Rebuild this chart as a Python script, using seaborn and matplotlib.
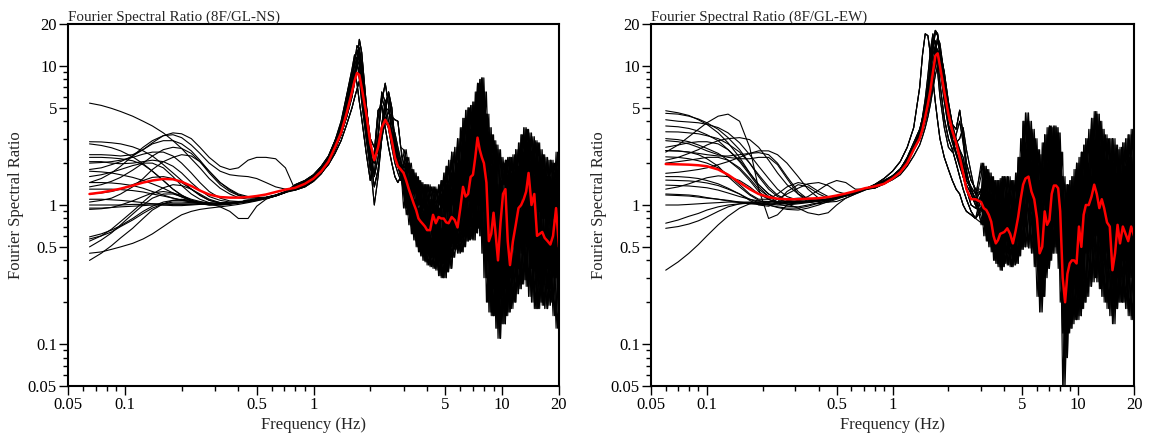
import matplotlib
matplotlib.use("Agg")
import matplotlib.pyplot as plt
import pandas as pd
import seaborn as sns
from matplotlib.ticker import FixedLocator, FixedFormatter, NullFormatter

# ---------------- tick labels ----------------
tick_values = [0.05, 0.1, 0.5, 1, 5, 10, 20]
tick_labels = ["0.05", "0.1", "0.5", "1", "5", "10", "20"]
minor_values = [0.06, 0.07, 0.08, 0.09, 0.2, 0.3, 0.4, 0.6, 0.7, 0.8, 0.9,
                2, 3, 4, 6, 7, 8, 9]

titles = ["Fourier Spectral Ratio (8F/GL-NS)", "Fourier Spectral Ratio (8F/GL-EW)"]

# ---------------- frequency grids ----------------
mid_freq_ns = [0.8, 0.9, 1.0, 1.1, 1.2, 1.3, 1.4, 1.5, 1.6, 1.65,
               1.7, 1.75, 1.8, 1.9, 2.0, 2.1, 2.2, 2.3, 2.4, 2.5,
               2.6, 2.7, 2.8, 2.9]
mid_freq_ew = [0.8, 0.9, 1.0, 1.1, 1.2, 1.3, 1.4, 1.45, 1.5, 1.55,
               1.6, 1.65, 1.7, 1.75, 1.8, 1.9, 2.0, 2.1, 2.2, 2.3,
               2.4, 2.5, 2.65, 2.8]
hf_freq_a = [3.0, 3.1, 3.2, 3.3, 3.4, 3.5, 3.6, 3.7, 3.8, 3.9,
             4.0, 4.15, 4.3, 4.45, 4.6, 4.75, 4.9, 5.05, 5.2, 5.4,
             5.6, 5.8, 6.0, 6.2, 6.4, 6.6, 6.8, 7.0, 7.2, 7.4,
             7.6, 7.8, 8.0, 8.25, 8.5, 8.75, 9.0, 9.25, 9.5, 9.8,
             10.1, 10.4, 10.7, 11.0, 11.4, 11.8, 12.2, 12.6, 13.0, 13.4,
             13.8, 14.3, 14.8, 15.3, 15.8, 16.3, 16.8, 17.4, 18.0, 18.6,
             19.3, 20.0]
hf_freq_b = [3.1, 3.2, 3.3, 3.4, 3.5, 3.6, 3.7, 3.8, 3.9, 4.0,
             4.15, 4.3, 4.45, 4.6, 4.75, 4.9, 5.05, 5.2, 5.4, 5.6,
             5.8, 6.0, 6.2, 6.4, 6.6, 6.8, 7.0, 7.2, 7.4, 7.6,
             7.8, 8.0, 8.25, 8.5, 8.75, 9.0, 9.25, 9.5, 9.8, 10.1,
             10.4, 10.7, 11.0, 11.4, 11.8, 12.2, 12.6, 13.0, 13.4, 13.8,
             14.3, 14.8, 15.3, 15.8, 16.3, 16.8, 17.4, 18.0, 18.6, 19.3,
             20.0, 20.7]
hf_freq_c = [3.05, 3.15, 3.25, 3.35, 3.45, 3.55, 3.65, 3.75, 3.85, 3.95,
             4.07, 4.22, 4.37, 4.52, 4.67, 4.82, 4.97, 5.12, 5.3, 5.5,
             5.7, 5.9, 6.1, 6.3, 6.5, 6.7, 6.9, 7.1, 7.3, 7.5,
             7.7, 7.9, 8.12, 8.37, 8.62, 8.87, 9.12, 9.37, 9.65, 9.95,
             10.25, 10.55, 10.85, 11.2, 11.6, 12.0, 12.4, 12.8, 13.2, 13.6,
             14.05, 14.55, 15.05, 15.55, 16.05, 16.55, 17.1, 17.7, 18.3, 18.95,
             19.65, 20.4]
hf_grids = [hf_freq_a, hf_freq_b, hf_freq_c]

# ================= NS panel =================
lf_freq_ns = [0.065, 0.075, 0.085, 0.095, 0.11, 0.125, 0.14, 0.16, 0.18, 0.2,
              0.225, 0.25, 0.28, 0.32, 0.36, 0.4, 0.45, 0.5, 0.56, 0.63, 0.71]
ns_lf = [
    [5.4, 5.2, 4.95, 4.7, 4.35, 4.0, 3.7, 3.3, 2.9, 2.55, 2.15, 1.85, 1.55, 1.32, 1.2, 1.13, 1.1, 1.1, 1.12, 1.17, 1.24],
    [2.85, 2.84, 2.8, 2.75, 2.62, 2.45, 2.25, 1.95, 1.7, 1.5, 1.3, 1.17, 1.08, 1.04, 1.03, 1.04, 1.06, 1.09, 1.12, 1.17, 1.24],
    [2.75, 2.68, 2.58, 2.45, 2.22, 1.98, 1.75, 1.5, 1.3, 1.17, 1.07, 1.02, 1.0, 1.0, 1.01, 1.03, 1.05, 1.08, 1.11, 1.16, 1.23],
    [2.3, 2.3, 2.28, 2.25, 2.3, 2.5, 2.8, 3.15, 3.3, 3.25, 3.0, 2.6, 2.2, 1.9, 1.8, 1.85, 2.1, 2.2, 2.2, 2.15, 1.85],
    [1.45, 1.55, 1.7, 1.9, 2.25, 2.6, 2.9, 3.15, 3.2, 3.05, 2.7, 2.35, 2.0, 1.75, 1.65, 1.62, 1.6, 1.55, 1.45, 1.35, 1.3],
    [1.8, 1.85, 1.95, 2.05, 2.25, 2.5, 2.75, 2.9, 2.9, 2.75, 2.45, 2.1, 1.75, 1.45, 1.3, 1.2, 1.15, 1.13, 1.14, 1.18, 1.25],
    [1.35, 1.4, 1.48, 1.58, 1.78, 2.0, 2.25, 2.5, 2.6, 2.55, 2.35, 2.05, 1.7, 1.4, 1.25, 1.17, 1.13, 1.12, 1.13, 1.18, 1.25],
    [1.05, 1.08, 1.12, 1.2, 1.35, 1.55, 1.8, 2.05, 2.2, 2.3, 2.25, 2.05, 1.75, 1.45, 1.28, 1.18, 1.13, 1.12, 1.13, 1.17, 1.24],
    [2.05, 2.05, 2.0, 1.98, 2.0, 2.05, 2.1, 2.05, 1.9, 1.7, 1.45, 1.28, 1.15, 1.08, 1.05, 1.05, 1.07, 1.09, 1.12, 1.16, 1.23],
    [2.2, 2.2, 2.18, 2.15, 2.08, 1.95, 1.75, 1.5, 1.3, 1.18, 1.08, 1.03, 1.0, 1.0, 1.02, 1.04, 1.07, 1.09, 1.12, 1.17, 1.24],
    [1.75, 1.73, 1.7, 1.65, 1.58, 1.5, 1.42, 1.32, 1.22, 1.14, 1.07, 1.03, 1.01, 1.02, 1.03, 1.05, 1.07, 1.1, 1.13, 1.17, 1.24],
    [1.6, 1.65, 1.72, 1.8, 1.92, 2.0, 2.0, 1.85, 1.6, 1.38, 1.2, 1.1, 1.04, 1.02, 1.03, 1.05, 1.07, 1.1, 1.13, 1.17, 1.24],
    [1.45, 1.45, 1.44, 1.42, 1.38, 1.32, 1.25, 1.18, 1.12, 1.08, 1.05, 1.03, 1.02, 1.02, 1.03, 1.05, 1.07, 1.1, 1.13, 1.17, 1.24],
    [1.0, 1.0, 1.0, 1.0, 1.01, 1.01, 1.02, 1.02, 1.02, 1.02, 1.02, 1.02, 1.02, 1.03, 1.04, 1.05, 1.07, 1.09, 1.12, 1.16, 1.23],
    [0.95, 0.95, 0.96, 0.97, 0.98, 0.99, 1.0, 1.0, 1.01, 1.01, 1.01, 1.02, 1.02, 1.02, 1.03, 1.05, 1.07, 1.1, 1.13, 1.17, 1.24],
    [0.93, 0.94, 0.96, 1.0, 1.07, 1.15, 1.22, 1.25, 1.22, 1.17, 1.1, 1.06, 1.03, 0.97, 0.9, 0.8, 0.8, 0.98, 1.1, 1.17, 1.24],
    [0.59, 0.62, 0.66, 0.71, 0.8, 0.9, 0.98, 1.05, 1.08, 1.08, 1.06, 1.04, 1.03, 1.03, 1.04, 1.05, 1.07, 1.1, 1.13, 1.17, 1.24],
    [0.57, 0.6, 0.64, 0.7, 0.78, 0.87, 0.95, 1.02, 1.05, 1.05, 1.04, 1.03, 1.02, 1.02, 1.03, 1.05, 1.07, 1.1, 1.13, 1.17, 1.24],
    [0.5, 0.56, 0.63, 0.72, 0.86, 1.0, 1.12, 1.2, 1.2, 1.15, 1.08, 1.04, 1.02, 1.02, 1.03, 1.05, 1.07, 1.1, 1.13, 1.17, 1.24],
    [0.45, 0.46, 0.48, 0.5, 0.53, 0.57, 0.62, 0.7, 0.78, 0.85, 0.9, 0.93, 0.95, 0.97, 0.99, 1.01, 1.04, 1.07, 1.11, 1.16, 1.23],
    [0.4, 0.45, 0.51, 0.58, 0.68, 0.8, 0.92, 1.02, 1.08, 1.1, 1.08, 1.05, 1.03, 1.02, 1.03, 1.05, 1.07, 1.1, 1.13, 1.17, 1.24],
    [1.2, 1.22, 1.25, 1.3, 1.4, 1.5, 1.58, 1.6, 1.55, 1.45, 1.3, 1.18, 1.08, 1.03, 1.02, 1.04, 1.06, 1.09, 1.12, 1.17, 1.24],
    [1.3, 1.3, 1.3, 1.29, 1.27, 1.24, 1.2, 1.16, 1.12, 1.09, 1.06, 1.04, 1.03, 1.03, 1.04, 1.05, 1.07, 1.1, 1.13, 1.17, 1.24],
    [2.0, 2.02, 2.05, 2.1, 2.2, 2.32, 2.4, 2.4, 2.25, 2.0, 1.7, 1.45, 1.25, 1.12, 1.07, 1.06, 1.07, 1.1, 1.13, 1.17, 1.24],
    [0.55, 0.6, 0.67, 0.76, 0.9, 1.05, 1.2, 1.33, 1.4, 1.38, 1.3, 1.2, 1.1, 1.04, 1.03, 1.05, 1.07, 1.1, 1.13, 1.17, 1.24],
    [1.1, 1.1, 1.09, 1.08, 1.06, 1.04, 1.02, 1.0, 0.99, 0.99, 1.0, 1.01, 1.02, 1.03, 1.04, 1.05, 1.07, 1.1, 1.13, 1.17, 1.24],
]
ns_mid = [
    [1.3, 1.38, 1.5, 1.72, 2.1, 2.8, 3.8, 5.6, 8.5, 11.0, 13.0, 11.0, 7.5, 3.8, 2.2, 2.0, 3.2, 5.5, 7.5, 5.2, 3.2, 2.3, 1.9, 1.7],
    [1.35, 1.45, 1.58, 1.78, 2.05, 2.5, 3.2, 4.3, 6.0, 7.6, 10.5, 15.5, 12.5, 5.5, 2.6, 1.6, 2.2, 3.8, 5.5, 6.2, 4.2, 2.6, 1.9, 1.6],
    [1.4, 1.5, 1.65, 1.9, 2.25, 2.9, 3.6, 5.0, 7.5, 9.0, 10.2, 9.0, 6.5, 3.6, 2.5, 2.2, 2.4, 3.3, 4.2, 4.6, 4.3, 4.1, 4.0, 2.6],
    [1.28, 1.35, 1.48, 1.68, 2.0, 2.6, 3.8, 6.0, 9.0, 8.8, 7.5, 5.5, 4.2, 2.4, 1.5, 2.4, 4.8, 5.2, 3.6, 2.6, 2.0, 1.6, 1.45, 1.6],
    [1.32, 1.4, 1.52, 1.72, 2.0, 2.5, 3.2, 4.4, 6.2, 8.0, 10.5, 12.0, 9.8, 4.8, 2.2, 1.35, 1.8, 3.0, 4.8, 6.5, 5.0, 2.9, 2.2, 1.8],
    [1.3, 1.4, 1.52, 1.7, 1.95, 2.35, 2.9, 3.8, 5.0, 5.9, 6.8, 7.8, 8.2, 5.2, 3.0, 2.6, 2.8, 3.6, 4.0, 3.8, 3.0, 2.4, 2.0, 1.9],
    [1.36, 1.46, 1.6, 1.82, 2.15, 2.7, 3.5, 5.0, 7.8, 10.5, 14.0, 13.0, 8.5, 4.2, 2.0, 1.0, 1.6, 3.0, 4.0, 3.6, 2.7, 3.0, 2.4, 2.0],
    [1.34, 1.44, 1.56, 1.76, 2.08, 2.65, 3.5, 5.2, 8.0, 10.0, 11.5, 10.0, 7.0, 3.4, 1.8, 1.7, 3.0, 6.5, 5.5, 4.0, 3.4, 2.8, 2.2, 1.8],
    [1.31, 1.39, 1.51, 1.7, 2.02, 2.55, 3.3, 4.6, 6.6, 8.6, 11.5, 13.5, 10.5, 5.0, 2.7, 2.1, 2.5, 3.6, 5.0, 4.8, 3.8, 3.3, 2.6, 2.1],
    [1.37, 1.47, 1.62, 1.85, 2.2, 2.9, 4.0, 6.2, 9.5, 12.0, 11.0, 8.0, 5.5, 3.0, 1.8, 2.2, 4.2, 6.0, 4.8, 3.5, 2.6, 2.0, 1.7, 1.5],
]
ns_hf = [
    [1.9, 2.2, 1.4, 1.8, 1.2, 1.6, 1.0, 1.45, 0.95, 1.4,
     0.9, 1.35, 1.0, 1.3, 1.0, 1.5, 1.0, 1.9, 1.0, 2.4,
     1.0, 3.0, 1.2, 4.2, 1.5, 5.0, 1.8, 5.5, 2.8, 7.5,
     3.2, 8.2, 2.4, 4.5, 1.0, 3.2, 1.1, 2.7, 0.8, 2.2,
     1.4, 2.1, 0.7, 2.2, 0.8, 2.5, 1.1, 3.2, 1.3, 3.5,
     1.8, 3.1, 1.2, 2.8, 0.9, 2.3, 0.9, 2.1, 0.8, 2.0,
     1.3, 2.2],
    [0.95, 1.3, 0.72, 1.0, 0.56, 0.8, 0.46, 0.66, 0.4, 0.6,
     0.37, 0.58, 0.35, 0.65, 0.31, 0.68, 0.3, 0.64, 0.35, 0.7,
     0.48, 0.6, 0.46, 1.1, 0.55, 1.0, 0.57, 1.4, 0.63, 2.4,
     0.6, 1.8, 0.3, 1.2, 0.17, 0.55, 0.16, 0.5, 0.11, 0.6,
     0.14, 1.0, 0.17, 0.35, 0.2, 0.6, 0.25, 0.85, 0.29, 1.0,
     0.22, 0.85, 0.18, 0.5, 0.2, 0.55, 0.18, 0.45, 0.2, 0.5,
     0.13, 0.42],
    [1.8, 1.2, 1.4, 0.8, 1.1, 0.65, 0.95, 0.55, 0.85, 0.5,
     0.9, 0.45, 1.0, 0.5, 0.95, 0.45, 1.1, 0.5, 1.3, 0.6,
     1.6, 0.65, 2.0, 0.9, 2.6, 1.1, 3.0, 1.3, 4.0, 1.8,
     5.5, 1.5, 3.0, 0.6, 1.6, 0.35, 1.5, 0.3, 1.1, 0.25,
     1.2, 0.35, 1.3, 0.3, 1.2, 0.45, 1.6, 0.55, 2.2, 0.7,
     2.0, 0.5, 1.6, 0.4, 1.3, 0.4, 1.2, 0.35, 1.1, 0.4,
     1.5, 0.45],
    [1.3, 2.0, 0.9, 1.5, 0.7, 1.2, 0.6, 1.1, 0.5, 1.0,
     0.48, 1.1, 0.55, 1.0, 0.45, 1.2, 0.5, 1.4, 0.55, 1.7,
     0.7, 2.0, 0.8, 2.8, 1.0, 3.5, 1.2, 4.2, 1.6, 5.8,
     2.2, 6.5, 1.2, 2.6, 0.5, 1.9, 0.4, 1.4, 0.3, 1.5,
     0.35, 1.6, 0.4, 1.7, 0.5, 1.9, 0.6, 2.4, 0.8, 2.8,
     0.6, 2.4, 0.5, 2.0, 0.45, 1.8, 0.4, 1.6, 0.35, 1.7,
     0.4, 1.9],
    [1.4, 1.0, 0.9, 0.7, 0.75, 0.55, 0.65, 0.5, 0.55, 0.45,
     0.6, 0.42, 0.55, 0.4, 0.6, 0.38, 0.7, 0.4, 0.8, 0.5,
     0.9, 0.55, 1.1, 0.6, 1.3, 0.7, 1.6, 0.8, 2.0, 1.0,
     2.5, 0.9, 1.5, 0.4, 0.8, 0.25, 0.6, 0.2, 0.5, 0.3,
     0.7, 0.25, 0.6, 0.3, 0.8, 0.35, 0.9, 0.45, 1.0, 0.5,
     0.8, 0.35, 0.7, 0.3, 0.65, 0.28, 0.6, 0.25, 0.55, 0.3,
     0.6, 0.3],
    [2.5, 1.7, 2.0, 1.3, 1.7, 1.1, 1.5, 0.9, 1.4, 0.85,
     1.4, 0.8, 1.35, 0.9, 1.4, 0.95, 1.7, 0.9, 2.1, 1.0,
     2.6, 0.9, 3.6, 1.6, 4.8, 1.4, 5.2, 2.0, 6.5, 3.5,
     8.0, 2.6, 6.5, 1.8, 3.6, 0.8, 2.9, 0.9, 2.5, 0.9,
     2.0, 1.5, 2.2, 0.6, 2.3, 0.9, 2.8, 1.2, 3.6, 1.5,
     3.3, 1.3, 2.9, 0.9, 2.5, 0.8, 2.2, 0.8, 2.1, 0.8,
     2.4, 0.7],
    [1.5, 0.85, 1.1, 0.62, 0.9, 0.5, 0.65, 0.43, 0.62, 0.39,
     0.56, 0.36, 0.7, 0.34, 0.66, 0.3, 0.65, 0.33, 0.62, 0.42,
     0.66, 0.45, 0.8, 0.5, 0.95, 0.56, 1.3, 0.56, 1.8, 0.68,
     2.0, 0.45, 1.5, 0.2, 0.5, 0.16, 0.7, 0.13, 0.35, 0.14,
     0.9, 0.16, 0.45, 0.18, 0.45, 0.23, 0.75, 0.27, 0.9, 0.26,
     1.3, 0.2, 0.9, 0.18, 0.5, 0.19, 0.5, 0.19, 0.42, 0.16,
     0.75, 0.2],
]
ns_mean_lf = [1.2, 1.23, 1.27, 1.31, 1.38, 1.45, 1.5, 1.54, 1.53, 1.47,
              1.37, 1.27, 1.19, 1.14, 1.13, 1.13, 1.14, 1.16, 1.19, 1.24, 1.29]
ns_mean_mid = [1.33, 1.42, 1.55, 1.75, 2.05, 2.6, 3.3, 4.6, 6.5, 7.8,
               8.9, 8.6, 7.0, 4.6, 2.8, 2.1, 2.6, 3.6, 4.1, 3.7,
               2.9, 2.2, 1.9, 1.8]
ns_mean_hf = [1.7, 1.5, 1.3, 1.15, 1.02, 0.92, 0.8, 0.76, 0.73, 0.7,
              0.66, 0.66, 0.85, 0.74, 0.82, 0.8, 0.8, 0.75, 0.74, 0.82,
              0.78, 0.69, 0.95, 1.35, 1.15, 1.2, 1.59, 1.65, 2.2, 3.05,
              2.5, 2.2, 2.0, 1.45, 0.55, 0.62, 0.88, 0.6, 0.4, 0.75,
              1.2, 1.3, 0.55, 0.37, 0.55, 0.72, 0.95, 1.0, 1.1, 1.25,
              1.7, 1.0, 1.2, 0.6, 0.62, 0.64, 0.58, 0.55, 0.52, 0.6,
              0.95, 0.5]

# ================= EW panel =================
lf_freq_ew = [0.06, 0.07, 0.08, 0.09, 0.1, 0.115, 0.13, 0.15, 0.17, 0.19,
              0.215, 0.24, 0.27, 0.31, 0.35, 0.4, 0.45, 0.5, 0.56, 0.63, 0.71]
ew_lf = [
    [4.76, 4.6, 4.4, 4.1, 3.8, 3.3, 2.8, 2.2, 1.7, 1.4, 1.2, 1.1, 1.06, 1.05, 1.06, 1.08, 1.1, 1.13, 1.17, 1.22, 1.3],
    [4.56, 4.5, 4.35, 4.15, 3.9, 3.5, 3.05, 2.5, 2.0, 1.6, 1.3, 1.15, 1.08, 1.06, 1.06, 1.08, 1.1, 1.13, 1.17, 1.22, 1.3],
    [4.1, 4.0, 3.95, 3.9, 3.8, 3.6, 3.3, 2.8, 2.3, 1.9, 1.55, 1.3, 1.15, 1.08, 1.06, 1.07, 1.1, 1.13, 1.17, 1.22, 1.3],
    [2.4, 2.7, 3.1, 3.5, 3.9, 4.35, 4.5, 4.0, 2.6, 1.3, 0.8, 0.85, 1.0, 1.05, 1.05, 1.07, 1.1, 1.13, 1.17, 1.22, 1.3],
    [3.36, 3.35, 3.3, 3.25, 3.15, 3.0, 2.75, 2.4, 2.0, 1.65, 1.35, 1.18, 1.08, 1.05, 1.06, 1.08, 1.1, 1.13, 1.17, 1.22, 1.3],
    [2.1, 2.2, 2.35, 2.5, 2.7, 2.9, 3.0, 3.05, 2.95, 2.6, 2.1, 1.7, 1.4, 1.2, 1.1, 1.08, 1.1, 1.13, 1.17, 1.22, 1.3],
    [2.46, 2.45, 2.4, 2.35, 2.3, 2.25, 2.25, 2.3, 2.35, 2.38, 2.3, 2.0, 1.6, 1.25, 1.1, 1.06, 1.08, 1.12, 1.16, 1.22, 1.3],
    [2.46, 2.44, 2.4, 2.3, 2.15, 1.9, 1.6, 1.35, 1.18, 1.08, 1.02, 1.0, 1.0, 1.02, 1.04, 1.07, 1.1, 1.13, 1.17, 1.22, 1.3],
    [2.22, 2.2, 2.15, 2.08, 2.0, 1.85, 1.65, 1.4, 1.2, 1.1, 1.1, 1.2, 1.35, 1.45, 1.4, 1.25, 1.15, 1.15, 1.18, 1.22, 1.3],
    [2.0, 2.05, 2.1, 2.15, 2.2, 2.2, 2.1, 1.85, 1.55, 1.3, 1.15, 1.1, 1.1, 1.12, 1.12, 1.1, 1.1, 1.13, 1.17, 1.22, 1.3],
    [1.69, 1.72, 1.76, 1.8, 1.85, 1.95, 2.05, 2.2, 2.35, 2.45, 2.45, 2.3, 2.0, 1.6, 1.3, 1.12, 1.05, 1.06, 1.12, 1.2, 1.28],
    [1.51, 1.5, 1.49, 1.47, 1.44, 1.38, 1.3, 1.2, 1.1, 1.04, 1.0, 0.97, 0.95, 0.95, 0.98, 1.03, 1.08, 1.13, 1.17, 1.22, 1.3],
    [1.39, 1.38, 1.37, 1.35, 1.33, 1.28, 1.22, 1.15, 1.1, 1.07, 1.06, 1.05, 1.02, 0.95, 0.88, 0.85, 0.88, 1.0, 1.12, 1.2, 1.28],
    [1.18, 1.17, 1.16, 1.14, 1.12, 1.1, 1.08, 1.05, 1.03, 1.02, 1.04, 1.1, 1.2, 1.32, 1.42, 1.45, 1.38, 1.25, 1.2, 1.23, 1.3],
    [1.0, 1.0, 1.01, 1.02, 1.03, 1.04, 1.05, 1.05, 1.05, 1.05, 1.05, 1.05, 1.05, 1.06, 1.07, 1.08, 1.1, 1.13, 1.17, 1.22, 1.3],
    [0.74, 0.78, 0.83, 0.87, 0.92, 0.97, 1.0, 1.02, 1.03, 1.03, 1.03, 1.03, 1.04, 1.05, 1.06, 1.08, 1.1, 1.13, 1.17, 1.22, 1.3],
    [0.68, 0.7, 0.73, 0.77, 0.82, 0.9, 0.97, 1.02, 1.04, 1.03, 1.0, 0.96, 0.93, 0.92, 0.95, 1.0, 1.06, 1.12, 1.17, 1.22, 1.3],
    [0.34, 0.39, 0.45, 0.52, 0.6, 0.72, 0.83, 0.95, 1.02, 1.05, 1.06, 1.06, 1.05, 1.05, 1.06, 1.08, 1.1, 1.13, 1.17, 1.22, 1.3],
    [1.6, 1.6, 1.58, 1.55, 1.5, 1.42, 1.32, 1.2, 1.08, 1.0, 0.98, 1.05, 1.25, 1.4, 1.35, 1.2, 1.12, 1.12, 1.16, 1.22, 1.3],
    [3.0, 2.95, 2.85, 2.7, 2.55, 2.35, 2.1, 1.8, 1.5, 1.25, 1.1, 1.02, 0.98, 0.97, 1.0, 1.04, 1.08, 1.12, 1.17, 1.22, 1.3],
    [2.6, 2.7, 2.8, 2.85, 2.85, 2.75, 2.5, 2.1, 1.7, 1.4, 1.2, 1.1, 1.05, 1.05, 1.06, 1.08, 1.1, 1.13, 1.17, 1.22, 1.3],
    [1.3, 1.35, 1.42, 1.5, 1.57, 1.62, 1.6, 1.5, 1.35, 1.2, 1.1, 1.05, 1.04, 1.05, 1.07, 1.09, 1.11, 1.14, 1.18, 1.23, 1.3],
    [3.7, 3.65, 3.55, 3.4, 3.2, 2.9, 2.5, 2.05, 1.65, 1.35, 1.15, 1.05, 1.02, 1.03, 1.05, 1.08, 1.1, 1.13, 1.17, 1.22, 1.3],
    [2.9, 2.85, 2.75, 2.6, 2.45, 2.3, 2.2, 2.15, 2.15, 2.2, 2.2, 1.95, 1.55, 1.2, 1.05, 1.02, 1.05, 1.1, 1.16, 1.22, 1.3],
    [1.2, 1.19, 1.18, 1.16, 1.13, 1.1, 1.07, 1.04, 1.02, 1.01, 1.01, 1.02, 1.04, 1.08, 1.15, 1.28, 1.42, 1.5, 1.45, 1.3, 1.3],
]
ew_mid = [
    [1.35, 1.45, 1.6, 1.8, 2.2, 2.8, 3.5, 4.2, 5.3, 7.0, 9.5, 13.5, 18.0, 17.0, 12.0, 6.0, 3.8, 3.0, 2.4, 2.0, 1.6, 1.3, 1.0, 0.95],
    [1.4, 1.55, 1.75, 2.05, 2.6, 3.6, 7.0, 12.0, 17.0, 16.5, 12.0, 8.0, 5.5, 4.0, 3.0, 2.2, 1.8, 1.5, 1.3, 1.2, 1.0, 0.9, 0.85, 0.8],
    [1.38, 1.48, 1.62, 1.82, 2.15, 2.6, 3.2, 3.8, 4.6, 5.8, 7.5, 10.0, 13.0, 15.0, 13.5, 8.0, 5.0, 3.5, 2.8, 2.4, 2.0, 1.5, 1.3, 1.1],
    [1.4, 1.5, 1.62, 1.8, 2.1, 2.5, 3.0, 3.4, 4.0, 4.8, 6.0, 7.8, 10.0, 12.5, 13.0, 9.0, 5.5, 3.8, 3.5, 4.8, 3.2, 2.0, 1.5, 1.3],
    [1.32, 1.42, 1.55, 1.75, 2.05, 2.55, 3.2, 3.9, 5.0, 7.0, 10.5, 16.0, 15.0, 11.0, 7.5, 4.2, 3.0, 2.5, 2.0, 1.6, 1.3, 1.1, 0.9, 0.8],
    [1.33, 1.42, 1.52, 1.65, 1.9, 2.25, 2.7, 3.1, 3.6, 4.3, 5.3, 6.8, 8.6, 10.0, 9.5, 7.0, 4.8, 3.6, 2.7, 2.2, 1.9, 1.6, 1.35, 1.2],
    [1.36, 1.46, 1.58, 1.78, 2.1, 2.6, 3.3, 3.9, 4.9, 6.5, 9.0, 13.0, 17.5, 16.5, 12.0, 7.0, 4.5, 3.2, 2.8, 3.0, 3.6, 2.5, 1.7, 1.2],
    [1.37, 1.47, 1.6, 1.8, 2.12, 2.65, 3.3, 4.0, 5.0, 6.6, 9.0, 12.0, 14.0, 13.0, 9.5, 5.5, 3.6, 2.8, 2.3, 1.9, 1.6, 1.4, 1.2, 1.0],
    [1.34, 1.44, 1.58, 1.78, 2.1, 2.6, 3.4, 4.3, 5.8, 8.5, 13.0, 17.0, 14.0, 9.0, 6.0, 3.6, 2.6, 2.4, 3.2, 4.0, 2.8, 1.8, 1.2, 1.0],
    [1.35, 1.45, 1.58, 1.76, 2.05, 2.5, 3.1, 3.6, 4.4, 5.5, 7.2, 10.0, 13.5, 16.0, 14.5, 8.5, 5.2, 3.8, 3.0, 2.5, 2.2, 1.7, 1.3, 1.05],
]
ew_hf = [
    [1.2, 1.9, 1.0, 1.7, 0.8, 1.5, 0.55, 1.5, 0.65, 1.6,
     0.7, 1.6, 0.65, 1.5, 0.7, 2.2, 1.2, 4.0, 1.6, 4.0,
     1.3, 3.0, 0.8, 2.3, 0.5, 3.2, 0.8, 3.7, 1.2, 3.7,
     1.4, 3.3, 0.9, 1.6, 0.2, 1.4, 0.4, 1.6, 0.4, 2.0,
     0.7, 2.4, 0.9, 3.0, 1.0, 4.2, 1.4, 4.5, 1.0, 3.5,
     1.0, 3.0, 0.7, 3.0, 0.45, 2.5, 0.7, 2.8, 0.6, 3.2,
     0.7, 3.2],
    [0.72, 1.1, 0.55, 0.95, 0.46, 0.8, 0.38, 0.6, 0.34, 0.65,
     0.38, 0.7, 0.36, 0.6, 0.38, 0.75, 0.48, 1.0, 0.5, 1.3,
     0.45, 1.0, 0.22, 0.5, 0.22, 0.8, 0.35, 0.8, 0.45, 1.2,
     0.45, 1.1, 0.2, 0.3, 0.08, 0.35, 0.13, 0.4, 0.15, 0.4,
     0.16, 0.5, 0.2, 0.8, 0.26, 1.0, 0.3, 1.1, 0.25, 1.0,
     0.2, 0.75, 0.16, 0.6, 0.18, 0.7, 0.2, 0.65, 0.18, 0.6,
     0.15, 0.6],
    [1.3, 0.8, 1.1, 0.65, 0.9, 0.5, 0.75, 0.45, 0.8, 0.5,
     0.9, 0.55, 0.8, 0.45, 0.9, 0.6, 1.5, 0.8, 2.5, 1.2,
     2.0, 0.9, 1.2, 0.35, 0.9, 0.5, 1.6, 0.6, 2.0, 0.8,
     2.2, 0.8, 1.0, 0.15, 0.5, 0.2, 0.6, 0.25, 0.8, 0.3,
     1.0, 0.35, 1.3, 0.5, 1.6, 0.6, 2.4, 0.8, 2.0, 0.5,
     1.6, 0.45, 1.4, 0.3, 1.2, 0.35, 1.2, 0.4, 1.4, 0.4,
     1.6, 0.5],
    [0.9, 1.5, 0.7, 1.2, 0.55, 1.0, 0.5, 1.0, 0.5, 1.1,
     0.55, 1.2, 0.5, 1.1, 0.55, 1.4, 0.8, 2.8, 1.2, 3.2,
     1.0, 2.4, 0.5, 1.5, 0.4, 2.0, 0.7, 2.6, 0.9, 2.9,
     1.0, 2.6, 0.5, 0.8, 0.2, 0.9, 0.3, 1.0, 0.35, 1.3,
     0.45, 1.6, 0.55, 2.0, 0.7, 2.8, 1.0, 3.3, 0.8, 2.6,
     0.6, 2.1, 0.45, 2.0, 0.45, 1.7, 0.5, 1.9, 0.45, 2.2,
     0.5, 2.4],
    [1.0, 0.75, 0.8, 0.6, 0.65, 0.5, 0.55, 0.42, 0.6, 0.45,
     0.65, 0.45, 0.6, 0.42, 0.7, 0.55, 0.9, 0.7, 1.3, 0.9,
     1.1, 0.6, 0.6, 0.25, 0.4, 0.5, 0.8, 0.55, 1.0, 0.7,
     1.1, 0.6, 0.5, 0.12, 0.15, 0.25, 0.3, 0.35, 0.4, 0.25,
     0.5, 0.3, 0.6, 0.45, 0.7, 0.5, 1.0, 0.6, 0.8, 0.4,
     0.6, 0.35, 0.5, 0.2, 0.4, 0.3, 0.5, 0.32, 0.55, 0.3,
     0.6, 0.35],
    [2.0, 1.0, 1.8, 0.9, 1.6, 0.7, 1.5, 0.6, 1.55, 0.7,
     1.6, 0.75, 1.5, 0.65, 1.7, 0.9, 3.0, 1.5, 4.6, 1.7,
     3.5, 1.2, 2.5, 0.6, 2.8, 1.0, 3.6, 0.8, 3.6, 1.4,
     3.6, 1.3, 2.4, 0.35, 1.4, 0.3, 1.5, 0.4, 1.8, 0.45,
     2.2, 0.6, 2.7, 1.0, 3.5, 1.2, 4.7, 1.3, 4.0, 1.0,
     3.2, 0.8, 3.0, 0.4, 2.7, 0.8, 2.6, 0.6, 3.0, 0.6,
     3.5, 0.7],
    [1.2, 0.6, 1.0, 0.5, 0.85, 0.4, 0.6, 0.36, 0.7, 0.36,
     0.75, 0.37, 0.7, 0.37, 0.7, 0.43, 1.2, 0.5, 1.5, 0.49,
     1.3, 0.36, 0.9, 0.17, 0.5, 0.3, 0.75, 0.4, 1.2, 0.5,
     1.3, 0.35, 0.9, 0.05, 0.2, 0.12, 0.35, 0.14, 0.45, 0.15,
     0.7, 0.18, 0.9, 0.22, 1.0, 0.28, 1.3, 0.28, 1.0, 0.22,
     1.0, 0.18, 0.7, 0.14, 0.5, 0.2, 0.7, 0.2, 0.6, 0.16,
     0.7, 0.2],
]
ew_mean_lf = [1.97, 1.96, 1.95, 1.93, 1.9, 1.8, 1.65, 1.45, 1.3, 1.2,
              1.14, 1.11, 1.1, 1.1, 1.11, 1.12, 1.14, 1.17, 1.21, 1.26, 1.32]
ew_mean_mid = [1.36, 1.42, 1.55, 1.72, 2.0, 2.5, 3.0, 3.5, 4.3, 5.3,
               6.7, 9.0, 11.8, 12.3, 10.0, 6.5, 4.5, 3.4, 2.8, 2.2,
               1.7, 1.3, 1.1, 1.1]
ew_mean_hf = [1.05, 0.95, 0.92, 0.85, 0.76, 0.6, 0.53, 0.56, 0.62, 0.63,
              0.64, 0.68, 0.62, 0.53, 0.65, 0.82, 1.1, 1.4, 1.55, 1.6,
              1.25, 1.1, 0.8, 0.45, 0.5, 0.9, 0.72, 0.78, 1.2, 1.38,
              1.38, 1.32, 0.9, 0.3, 0.2, 0.32, 0.38, 0.4, 0.4, 0.38,
              0.7, 0.5, 0.85, 1.0, 1.0, 1.15, 1.4, 1.2, 0.95, 1.1,
              0.95, 0.75, 0.7, 0.34, 0.45, 0.72, 0.53, 0.7, 0.62, 0.55,
              0.7, 0.6]


def build_curves(lf_freq, lf_curves, mid_freq, mid_curves, hf_curves):
    frames = []
    for i, lf in enumerate(lf_curves):
        grid = hf_grids[i % len(hf_grids)]
        f = list(lf_freq) + list(mid_freq) + list(grid)
        v = list(lf) + list(mid_curves[i % len(mid_curves)]) + list(hf_curves[i % len(hf_curves)])
        frames.append(pd.DataFrame({"freq": f, "ratio": v, "curve": i}))
    return pd.concat(frames, ignore_index=True)


def build_mean(lf_freq, lf, mid_freq, mid, hf):
    return pd.DataFrame({"freq": list(lf_freq) + list(mid_freq) + list(hf_freq_a),
                         "ratio": list(lf) + list(mid) + list(hf)})


panels = [
    (build_curves(lf_freq_ns, ns_lf, mid_freq_ns, ns_mid, ns_hf),
     build_mean(lf_freq_ns, ns_mean_lf, mid_freq_ns, ns_mean_mid, ns_mean_hf)),
    (build_curves(lf_freq_ew, ew_lf, mid_freq_ew, ew_mid, ew_hf),
     build_mean(lf_freq_ew, ew_mean_lf, mid_freq_ew, ew_mean_mid, ew_mean_hf)),
]

sns.set_style("ticks")
plt.rcParams["font.family"] = ["Liberation Serif", "DejaVu Serif"]

fig = plt.figure(figsize=(11.49, 4.38), dpi=100)
axes_rect = [(0.0592, 0.1187, 0.4273, 0.8265), (0.5666, 0.1187, 0.4204, 0.8265)]

for rect, title, (curves, mean) in zip(axes_rect, titles, panels):
    ax = fig.add_axes(rect)
    sns.lineplot(data=curves, x="freq", y="ratio", units="curve", estimator=None,
                 color="black", linewidth=0.8, ax=ax, legend=False)
    sns.lineplot(data=mean, x="freq", y="ratio", color="#ff0000", linewidth=1.8,
                 ax=ax, legend=False)
    ax.set_xscale("log")
    ax.set_yscale("log")
    ax.set_xlim(0.05, 20)
    ax.set_ylim(0.05, 20)
    for axis in (ax.xaxis, ax.yaxis):
        axis.set_major_locator(FixedLocator(tick_values))
        axis.set_major_formatter(FixedFormatter(tick_labels))
        axis.set_minor_locator(FixedLocator(minor_values))
        axis.set_minor_formatter(NullFormatter())
    ax.tick_params(which="both", direction="out", top=False, right=False,
                   labelsize=12, width=1.0, colors="black")
    ax.tick_params(which="major", length=6.5, pad=1.5)
    ax.tick_params(which="minor", length=3.5)
    for sp in ax.spines.values():
        sp.set_visible(True)
        sp.set_linewidth(1.5)
        sp.set_color("black")
    ax.set_xlabel("Frequency (Hz)", fontsize=12, labelpad=3)
    ax.set_ylabel("Fourier Spectral Ratio", fontsize=12, labelpad=3)
    ax.set_title(title, loc="left", fontsize=10.8, pad=2)

fig.savefig("out.png", dpi=100)
